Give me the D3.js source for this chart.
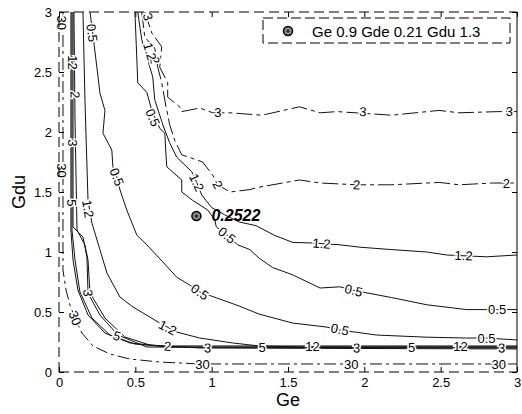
<!DOCTYPE html>
<html><head><meta charset="utf-8">
<script src="https://cdn.jsdelivr.net/npm/d3@7"></script>
<style>body{margin:0;background:#fff}svg{display:block}</style>
</head><body><svg id="c" width="522" height="414"></svg>
<script>
// ---- data ----
const xTicks = [0, 0.5, 1, 1.5, 2, 2.5, 3];
const yTicks = [0, 0.5, 1, 1.5, 2, 2.5, 3];
const pointGe = 0.9, pointGde = 0.21, pointGdu = 1.3, pointValue = 0.2522;

// contour lines, [Ge, Gdu]
const upper05 = [[0.497,3.0],[0.503,2.825],[0.510,2.60],[0.516,2.41],[0.575,2.33],[0.608,2.18],[0.660,2.03],[0.693,1.99],[0.699,1.85],[0.706,1.71],[0.804,1.60],[0.804,1.50],[0.876,1.43],[0.974,1.35],[1.02,1.27],[1.03,1.21],[1.10,1.14],[1.17,1.06],[1.25,1.02],[1.31,0.95],[1.40,0.87],[1.53,0.81],[1.71,0.70],[1.84,0.71],[1.93,0.68],[2.18,0.62],[2.41,0.56],[2.67,0.52],[2.87,0.52],[3.0,0.52]];
const upper12 = [[0.516,3.0],[0.542,2.77],[0.575,2.625],[0.614,2.46],[0.627,2.27],[0.680,2.06],[0.725,1.91],[0.771,1.79],[0.869,1.67],[0.902,1.58],[0.935,1.475],[1.0,1.37],[1.085,1.31],[1.18,1.25],[1.29,1.22],[1.41,1.14],[1.53,1.08],[1.66,1.075],[1.84,1.06],[1.97,1.04],[2.18,1.02],[2.41,1.0],[2.54,0.975],[2.80,0.96],[3.0,0.975]];
const upper2 = [[0.542,3.0],[0.562,2.79],[0.627,2.70],[0.647,2.54],[0.673,2.41],[0.699,2.225],[0.725,2.06],[0.758,1.93],[0.804,1.81],[0.941,1.75],[1.007,1.64],[1.04,1.56],[1.12,1.50],[1.25,1.52],[1.31,1.54],[1.575,1.60],[1.71,1.575],[1.95,1.56],[2.18,1.56],[2.49,1.58],[2.62,1.56],[2.84,1.575],[3.0,1.575]];
const upper3 = [[0.562,3.0],[0.608,2.825],[0.673,2.71],[0.660,2.54],[0.712,2.41],[0.712,2.29],[0.791,2.21],[0.804,2.17],[0.922,2.20],[1.007,2.16],[1.12,2.16],[1.33,2.14],[1.575,2.21],[1.71,2.16],[1.82,2.17],[2.18,2.14],[2.49,2.18],[2.62,2.16],[2.88,2.17],[3.0,2.17]];
const lower05 = [[0.203,3.0],[0.216,2.875],[0.248,2.54],[0.268,2.325],[0.301,2.18],[0.288,1.99],[0.346,1.85],[0.353,1.71],[0.379,1.625],[0.399,1.52],[0.444,1.35],[0.510,1.14],[0.575,1.06],[0.680,0.917],[0.771,0.79],[0.856,0.725],[0.922,0.667],[1.033,0.617],[1.18,0.55],[1.31,0.483],[1.53,0.408],[1.75,0.375],[1.84,0.35],[2.08,0.308],[2.41,0.29],[2.67,0.283],[2.80,0.283],[3.0,0.267]];
const lower12 = [[0.157,3.0],[0.170,2.27],[0.190,1.43],[0.216,1.24],[0.268,1.02],[0.314,0.825],[0.399,0.625],[0.484,0.542],[0.595,0.458],[0.660,0.408],[0.771,0.333],[0.922,0.283],[1.137,0.242],[1.31,0.217],[1.575,0.208],[3.0,0.208]];
const lower2 = [[0.098,3.0],[0.105,2.1],[0.118,1.183],[0.170,1.058],[0.190,0.933],[0.203,0.658],[0.301,0.45],[0.431,0.292],[0.595,0.225],[0.922,0.2],[3.0,0.192]];
const lower3 = [[0.092,3.0],[0.092,1.208],[0.157,1.125],[0.183,0.958],[0.190,0.658],[0.268,0.475],[0.386,0.308],[0.575,0.208],[3.0,0.2]];
const lower5 = [[0.085,3.0],[0.085,1.183],[0.105,0.933],[0.137,0.667],[0.216,0.45],[0.333,0.308],[0.497,0.233],[0.725,0.208],[3.0,0.208]];
const lower12lev = [[0.078,3.0],[0.078,1.183],[0.092,0.933],[0.124,0.683],[0.190,0.475],[0.301,0.325],[0.464,0.242],[0.660,0.217],[3.0,0.217]];
const lower30 = [[0.026,3.0],[0.026,0.85],[0.046,0.683],[0.072,0.558],[0.105,0.45],[0.150,0.325],[0.222,0.217],[0.333,0.15],[0.464,0.108],[0.660,0.083],[0.922,0.067],[3.0,0.067]];

// contour labels: [text, Ge, Gdu, line]
const contourLabels = [
  ["3",0.582,2.96,"upper3"],["3",1.04,2.16,"upper3"],["3",1.99,2.17,"upper3"],["3",2.95,2.17,"upper3"],
  ["2",0.627,2.60,"upper2"],["2",1.04,1.56,"upper2"],["2",1.95,1.56,"upper2"],["2",2.93,1.575,"upper2"],
  ["1.2",0.595,2.67,"upper12"],["1.2",0.902,1.58,"upper12"],["1.2",1.72,1.07,"upper12"],["1.2",2.65,0.97,"upper12"],
  ["0.5",0.614,2.12,"upper05"],["0.5",1.10,1.14,"upper05"],["0.5",1.93,0.68,"upper05"],["0.5",2.87,0.52,"upper05"],
  ["0.5",0.216,2.825,"lower05"],["0.5",0.379,1.625,"lower05"],["0.5",0.922,0.667,"lower05"],["0.5",1.84,0.355,"lower05"],["0.5",2.80,0.283,"lower05"],
  ["1.2",0.190,1.36,"lower12"],["1.2",0.712,0.37,"lower12"],
  ["12",0.092,2.58,"lower12lev"],["2",0.105,2.31,"lower2"],["3",0.092,1.91,"lower3"],["5",0.085,1.41,"lower5"],
  ["3",0.19,0.658,"lower3"],["5",0.379,0.30,"lower5"],["2",0.712,0.215,"lower2"],["3",0.974,0.2,"lower3"],
  ["5",1.33,0.205,"lower5"],["12",1.66,0.212,"lower12lev"],["3",1.95,0.2,"lower3"],["5",2.31,0.205,"lower5"],["12",2.63,0.212,"lower12lev"],["3",2.90,0.2,"lower3"],
  ["30",0.02,2.91,"lower30"],["30",0.02,1.68,"lower30"],["30",0.105,0.45,"lower30"],["30",0.94,0.067,"lower30"],["30",1.915,0.067,"lower30"],["30",2.88,0.067,"lower30"]
];

const lines = {upper05, upper12, upper2, upper3, lower05, lower12, lower2, lower3, lower5, lower12lev, lower30};
const dashed = {upper3:"16,4,4,4", upper2:"16,4,4,4", lower30:"12,4,3,4"};

// ---- drawing ----
const svg = d3.select("#c");
const x = d3.scaleLinear([0,3],[59,517]);
const y = d3.scaleLinear([0,3],[372,12]);
const font = "'Liberation Sans', Arial, Helvetica, sans-serif";

const line = d3.line().x(d=>x(d[0])).y(d=>y(d[1]));
const gl = svg.append("g");
Object.entries(lines).forEach(([k,pts])=>{
  gl.append("path").attr("d", line(pts)).attr("fill","none")
    .attr("stroke","#111").attr("stroke-width",1)
    .attr("stroke-dasharray", dashed[k] || null);
});

// labels oriented along their line
function angleAt(pts, px, py){
  let best=1e9, ang=0;
  for(let i=0;i<pts.length-1;i++){
    const ax=x(pts[i][0]), ay=y(pts[i][1]), bx=x(pts[i+1][0]), by=y(pts[i+1][1]);
    const dx=bx-ax, dy=by-ay, L=dx*dx+dy*dy||1;
    let t=((px-ax)*dx+(py-ay)*dy)/L; t=Math.max(0,Math.min(1,t));
    const qx=ax+t*dx-px, qy=ay+t*dy-py, d=qx*qx+qy*qy;
    if(d<best){best=d; ang=Math.atan2(dy,dx)*180/Math.PI;}
  }
  if(ang>90) ang-=180; if(ang<-90) ang+=180;
  return ang;
}
const gt = svg.append("g");
contourLabels.forEach(([t,ge,gdu,k])=>{
  const px=x(ge), py=y(gdu), a=angleAt(lines[k],px,py);
  gt.append("text").attr("transform",`translate(${px},${py}) rotate(${a})`)
    .attr("text-anchor","middle").attr("dy","0.35em")
    .attr("font-family",font).attr("font-size",13)
    .attr("fill","#000").attr("stroke","#fff").attr("stroke-width",3)
    .attr("paint-order","stroke").text(t);
});

// axes box
const axStyle = g=>{g.select(".domain").remove(); g.selectAll("text").attr("font-family",font).attr("font-size",13).attr("fill","#000"); g.selectAll("line").attr("stroke","#000");};
svg.append("g").attr("transform","translate(0,372)")
  .call(d3.axisBottom(x).tickValues(xTicks).tickSizeInner(-5).tickSizeOuter(0).tickPadding(6).tickFormat(d3.format(""))).call(axStyle);
svg.append("g").attr("transform","translate(0,12)")
  .call(d3.axisTop(x).tickValues(xTicks).tickSizeInner(-5).tickSizeOuter(0).tickFormat("")).call(axStyle);
svg.append("g").attr("transform","translate(59,0)")
  .call(d3.axisLeft(y).tickValues(yTicks).tickSizeInner(-5).tickSizeOuter(0).tickPadding(7).tickFormat(d3.format(""))).call(axStyle);
svg.append("g").attr("transform","translate(517,0)")
  .call(d3.axisRight(y).tickValues(yTicks).tickSizeInner(-5).tickSizeOuter(0).tickFormat("")).call(axStyle);
const box = svg.append("g").attr("fill","none").attr("stroke","#000").attr("stroke-width",1);
box.append("line").attr("x1",x(0)).attr("x2",x(3)).attr("y1",y(3)).attr("y2",y(3)).attr("stroke-dasharray","10,5");
box.append("line").attr("x1",x(0)).attr("x2",x(3)).attr("y1",y(0)).attr("y2",y(0)).attr("stroke-dasharray","10,5");
box.append("line").attr("x1",x(0)).attr("x2",x(0)).attr("y1",y(0)).attr("y2",y(3)).attr("stroke-dasharray","10,5");
box.append("line").attr("x1",x(3)).attr("x2",x(3)).attr("y1",y(0)).attr("y2",y(3));

// axis titles
svg.append("text").attr("x",(x(0)+x(3))/2).attr("y",406).attr("text-anchor","middle")
  .attr("font-family",font).attr("font-size",18).text("Ge");
svg.append("text").attr("transform",`translate(25,${(y(0)+y(3))/2}) rotate(-90)`).attr("text-anchor","middle")
  .attr("font-family",font).attr("font-size",18).text("Gdu");

// the point
function marker(g, cx, cy){
  g.append("circle").attr("cx",cx).attr("cy",cy).attr("r",4.5).attr("fill","#888").attr("stroke","#000").attr("stroke-width",1.5);
  g.append("circle").attr("cx",cx).attr("cy",cy).attr("r",1.5).attr("fill","#222");
}
marker(svg, x(pointGe), y(pointGdu));
svg.append("text").attr("x",x(pointGe)+15).attr("y",y(pointGdu)+5)
  .attr("font-family",font).attr("font-size",16).attr("font-weight","bold").attr("font-style","italic")
  .text(pointValue.toFixed(4));

// legend
const lg = svg.append("g");
lg.append("rect").attr("x",263).attr("y",18).attr("width",247).attr("height",25).attr("fill","#fff")
  .attr("stroke","#000").attr("stroke-dasharray","10,4");
marker(lg, 288, 31);
lg.append("text").attr("x",312).attr("y",36.5).attr("font-family",font).attr("font-size",15)
  .text(`Ge ${pointGe} Gde ${pointGde} Gdu ${pointGdu}`);
</script></body></html>
